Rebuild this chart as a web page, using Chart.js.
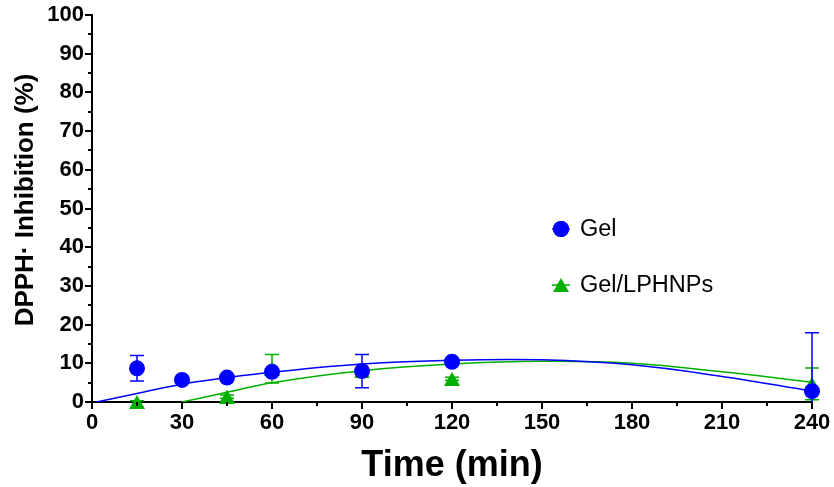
<!DOCTYPE html>
<html>
<head>
<meta charset="utf-8">
<script src="https://cdn.jsdelivr.net/npm/chart.js@4.4.1/dist/chart.umd.min.js"></script>
<style>
  html, body { margin: 0; padding: 0; background: #fff; }
</style>
</head>
<body>
<canvas id="chart0" width="834" height="487"></canvas>
<script>
// measured points (mean, sd)
const gelTime = [15, 30, 45, 60, 90, 120, 240];
const gelMean = [8.7, 5.7, 6.3, 7.8, 8.0, 10.4, 2.8];
const gelSd = [3.3, 0.4, 0.5, 0.6, 4.3, 0.5, 15.1];

const lphTime = [15, 45, 60, 90, 120, 240];
const lphMean = [0, 1.4, 8.6, 7.9, 6.0, 4.7];
const lphSd = [0.3, 0.4, 3.7, 0.5, 0.4, 4.1];

// fitted curves
const gelFitX = [1.5, 15, 30, 45, 60, 90, 120, 150, 180, 210, 240];
const gelFitY = [0, 2.2, 4.6, 6.3, 7.7, 9.8, 10.8, 10.9, 9.6, 6.6, 2.8];
const lphFitX = [30, 45, 60, 90, 120, 150, 180, 210, 240];
const lphFitY = [0, 2.5, 5.0, 8.1, 9.8, 10.5, 10.0, 7.8, 5.1];

const seriesNames = ["Gel", "Gel/LPHNPs"];
const xTitle = "Time (min)";
const yTitle = "DPPH· Inhibition (%)";
const xTickStep = 30;
const yTickStep = 10;

const BLUE = "#0000ff";
const GREEN = "#00b000";
const FONT = "'Liberation Sans', Arial, sans-serif";

function toPoints(xs, ys) {
    return xs.map((x, i) => ({ x: x, y: ys[i] }));
}

// triangle marker centred on its box (like the prism style)
function makeTriangle(color) {
    const c = document.createElement("canvas");
    c.width = 16;
    c.height = 14;
    const g = c.getContext("2d");
    g.fillStyle = color;
    g.beginPath();
    g.moveTo(8, 0);
    g.lineTo(16, 14);
    g.lineTo(0, 14);
    g.closePath();
    g.fill();
    return c;
}
const triGreen = makeTriangle(GREEN);

// error bars, drawn just before each point dataset
const errorBars = {
    id: "errorBars",
    beforeDatasetDraw(chart, args) {
        const ds = chart.data.datasets[args.index];
        if (!ds.sd) return;
        const ctx = chart.ctx;
        const xs = chart.scales.x, ys = chart.scales.y;
        ctx.save();
        ctx.strokeStyle = ds.borderColor;
        ctx.lineWidth = 1.5;
        ds.data.forEach((p, i) => {
            const sd = ds.sd[i];
            const px = xs.getPixelForValue(p.x);
            const hi = p.y + sd;
            const lo = Math.max(0, p.y - sd);
            const yHi = ys.getPixelForValue(hi);
            const yLo = ys.getPixelForValue(lo);
            ctx.beginPath();
            ctx.moveTo(px, yHi);
            ctx.lineTo(px, yLo);
            ctx.moveTo(px - 7, yHi);
            ctx.lineTo(px + 7, yHi);
            if (p.y - sd > 0) {
                ctx.moveTo(px - 7, yLo);
                ctx.lineTo(px + 7, yLo);
            }
            ctx.stroke();
        });
        ctx.restore();
    }
};

// minor ticks on both axes + axis titles
const axisExtras = {
    id: "axisExtras",
    afterDraw(chart) {
        const ctx = chart.ctx;
        const xs = chart.scales.x, ys = chart.scales.y;
        const a = chart.chartArea;
        ctx.save();
        ctx.strokeStyle = "#000";
        ctx.lineWidth = 2;
        ctx.beginPath();
        for (let v = 5; v < 100; v += 10) {
            const py = Math.round(ys.getPixelForValue(v));
            ctx.moveTo(a.left - 4, py);
            ctx.lineTo(a.left, py);
        }
        for (let v = 15; v < 240; v += 30) {
            const px = Math.round(xs.getPixelForValue(v));
            ctx.moveTo(px, a.bottom);
            ctx.lineTo(px, a.bottom + 4);
        }
        ctx.stroke();

        ctx.fillStyle = "#000";
        ctx.textAlign = "center";
        ctx.textBaseline = "alphabetic";
        ctx.font = "bold 36px " + FONT;
        ctx.fillText(xTitle, 452, 476);

        ctx.translate(33, 200);
        ctx.rotate(-Math.PI / 2);
        ctx.font = "bold 26px " + FONT;
        ctx.fillText(yTitle, 0, 0);
        ctx.restore();
    }
};

// legend inside plot area
const sideLegend = {
    id: "sideLegend",
    afterDraw(chart) {
        const ctx = chart.ctx;
        const items = [
            { name: seriesNames[0], color: BLUE, style: "circle" },
            { name: seriesNames[1], color: GREEN, style: triGreen }
        ];
        ctx.save();
        ctx.font = "23.5px " + FONT;
        ctx.textBaseline = "middle";
        items.forEach((it, i) => {
            const cx = 561, cy = 229 + i * 56;
            ctx.strokeStyle = it.color;
            ctx.lineWidth = 1.5;
            ctx.beginPath();
            ctx.moveTo(cx - 9, cy);
            ctx.lineTo(cx + 9, cy);
            ctx.stroke();
            ctx.fillStyle = it.color;
            Chart.helpers.drawPoint(ctx, {
                pointStyle: it.style, radius: 8, borderWidth: 0, rotation: 0
            }, cx, cy);
            if (it.style === "circle") ctx.fill();
            ctx.fillStyle = "#000";
            ctx.fillText(it.name, 580, cy + 1);
        });
        ctx.restore();
    }
};

const ctx = document.getElementById("chart0").getContext("2d");
new Chart(ctx, {
    type: "scatter",
    data: {
        datasets: [
            {
                label: seriesNames[0],
                data: toPoints(gelTime, gelMean),
                sd: gelSd,
                backgroundColor: BLUE,
                borderColor: BLUE,
                pointStyle: "circle",
                pointRadius: 8,
                pointBorderWidth: 0,
                clip: false
            },
            {
                label: seriesNames[1],
                data: toPoints(lphTime, lphMean),
                sd: lphSd,
                backgroundColor: GREEN,
                borderColor: GREEN,
                pointStyle: triGreen,
                pointRadius: 8,
                pointBorderWidth: 0,
                clip: false
            },
            {
                label: "Gel fit",
                data: toPoints(gelFitX, gelFitY),
                showLine: true,
                borderColor: BLUE,
                borderWidth: 1.5,
                pointRadius: 0,
                tension: 0.4
            },
            {
                label: "Gel/LPHNPs fit",
                data: toPoints(lphFitX, lphFitY),
                showLine: true,
                borderColor: GREEN,
                borderWidth: 1.5,
                pointRadius: 0,
                tension: 0.4
            }
        ]
    },
    options: {
        responsive: false,
        animation: false,
        layout: { padding: { top: 15, right: 22, left: 0, bottom: 0 } },
        plugins: {
            legend: { display: false },
            tooltip: { enabled: false }
        },
        scales: {
            x: {
                type: "linear",
                min: 0,
                max: 240,
                afterFit: (s) => { s.height = 85; },
                ticks: {
                    stepSize: xTickStep,
                    color: "#000",
                    padding: 1,
                    font: { family: FONT, size: 22, weight: "bold" }
                },
                grid: { drawOnChartArea: false, tickLength: 7, color: "#000", lineWidth: 2 },
                border: { color: "#000", width: 2 }
            },
            y: {
                min: 0,
                max: 100,
                afterFit: (s) => { s.width = 92; },
                ticks: {
                    stepSize: yTickStep,
                    color: "#000",
                    padding: 1,
                    font: { family: FONT, size: 22, weight: "bold" }
                },
                grid: { drawOnChartArea: false, tickLength: 7, color: "#000", lineWidth: 2 },
                border: { color: "#000", width: 2 }
            }
        }
    },
    plugins: [errorBars, axisExtras, sideLegend]
});
</script>
</body>
</html>
